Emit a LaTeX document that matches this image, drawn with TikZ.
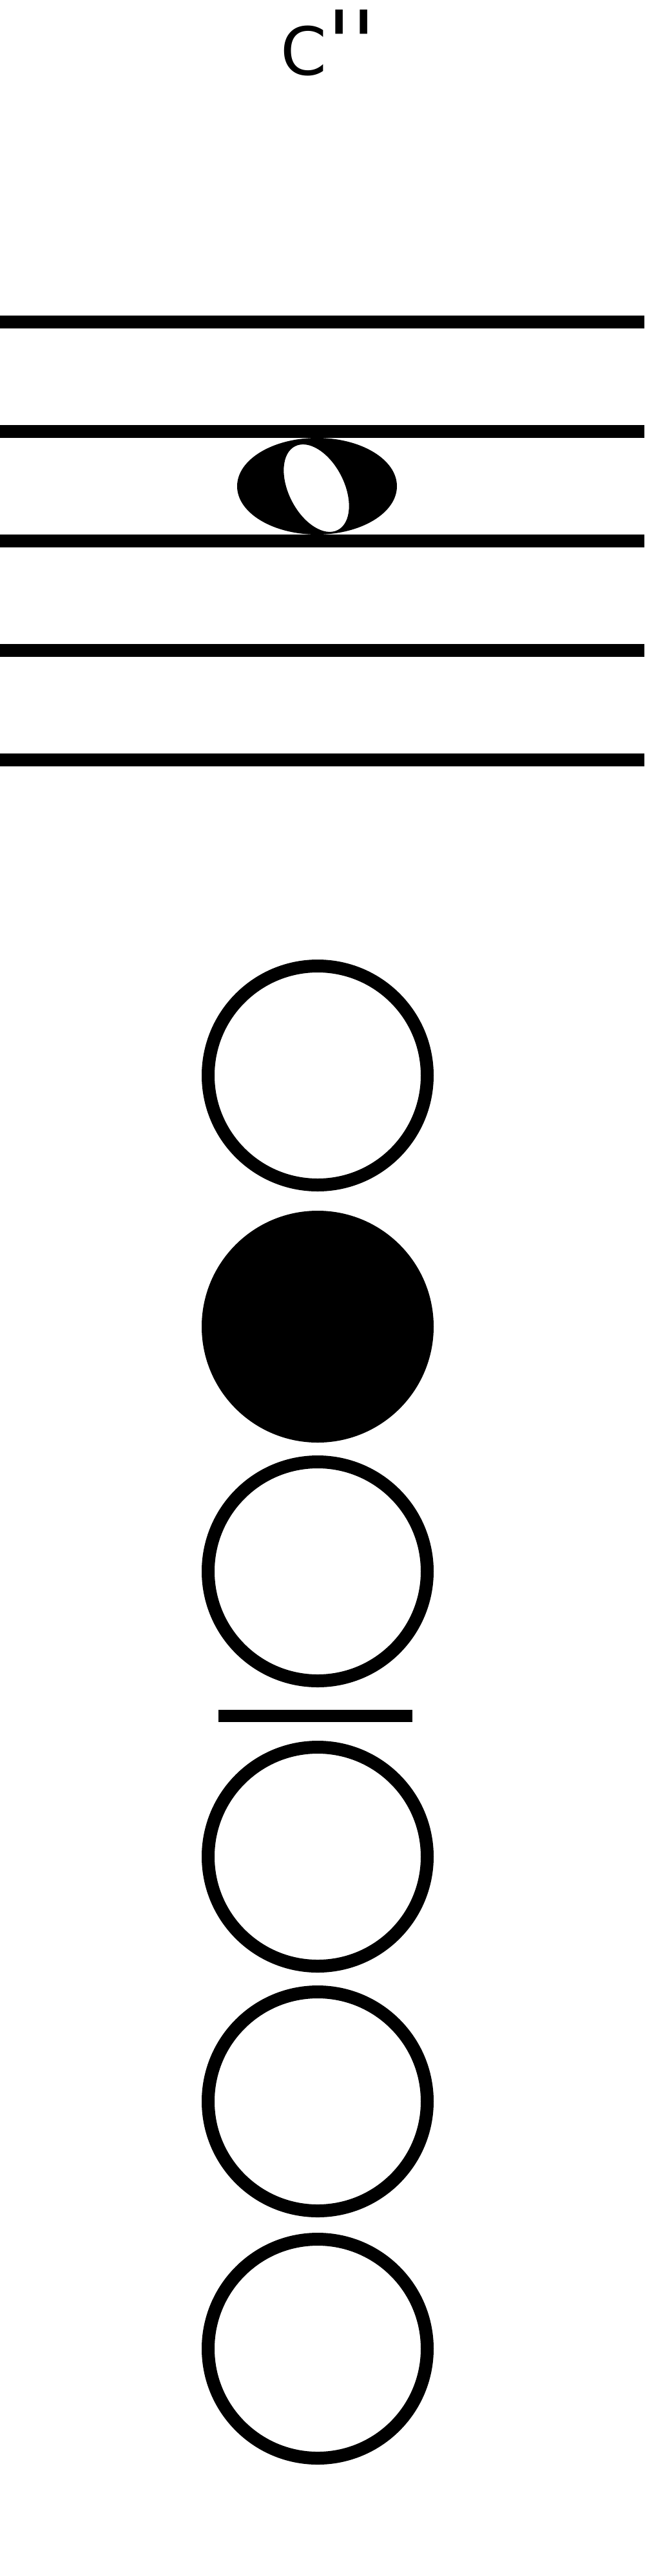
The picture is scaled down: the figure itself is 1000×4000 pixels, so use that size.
\documentclass[tikz,border=0pt]{standalone}
\usepackage{fontspec}
\newfontfamily\dvfont[Ligatures=TeXOff]{DejaVu Sans}
\begin{document}
\begin{tikzpicture}[x=0.1mm,y=-0.1mm,
  staffline/.style={line width=2mm},
  hole/.style={circle,draw=black,line width=2mm,minimum size=34mm,inner sep=0pt},
  closedhole/.style={hole,fill=black},
  barline/.style={line width=1.9mm}]
\useasboundingbox (0,0) rectangle (1000,4000);
\fill[white] (0,0) rectangle (1000,4000);
% title
\node[anchor=base west,inner sep=0pt] (title) at (435,117)
  {\dvfont\fontsize{29.3pt}{30pt}\selectfont C{\fontsize{39.5pt}{40pt}\selectfont''}};
% staff
\foreach \yy in {500,670,840,1010,1180}
  \draw[staffline] (0,\yy) -- (1000,\yy);
% whole note
\fill[black,even odd rule] (492,755) ellipse [x radius=12.4mm, y radius=7.5mm]
  {[shift={(491,758)},rotate=27] (0,0) ellipse [x radius=4.3mm, y radius=7.3mm]};
% fingering holes
\node[hole] (h1) at (493,1670) {};
\node[closedhole] (h2) at (493,2060) {};
\node[hole] (h3) at (493,2440) {};
\coordinate (bl) at (339,2664.5);
\coordinate (br) at (640,2664.5);
\draw[barline] (bl) -- (br);
\node[hole] (h4) at (493,2883) {};
\node[hole] (h5) at (493,3263) {};
\node[hole] (h6) at (493,3647) {};
\end{tikzpicture}
\end{document}
